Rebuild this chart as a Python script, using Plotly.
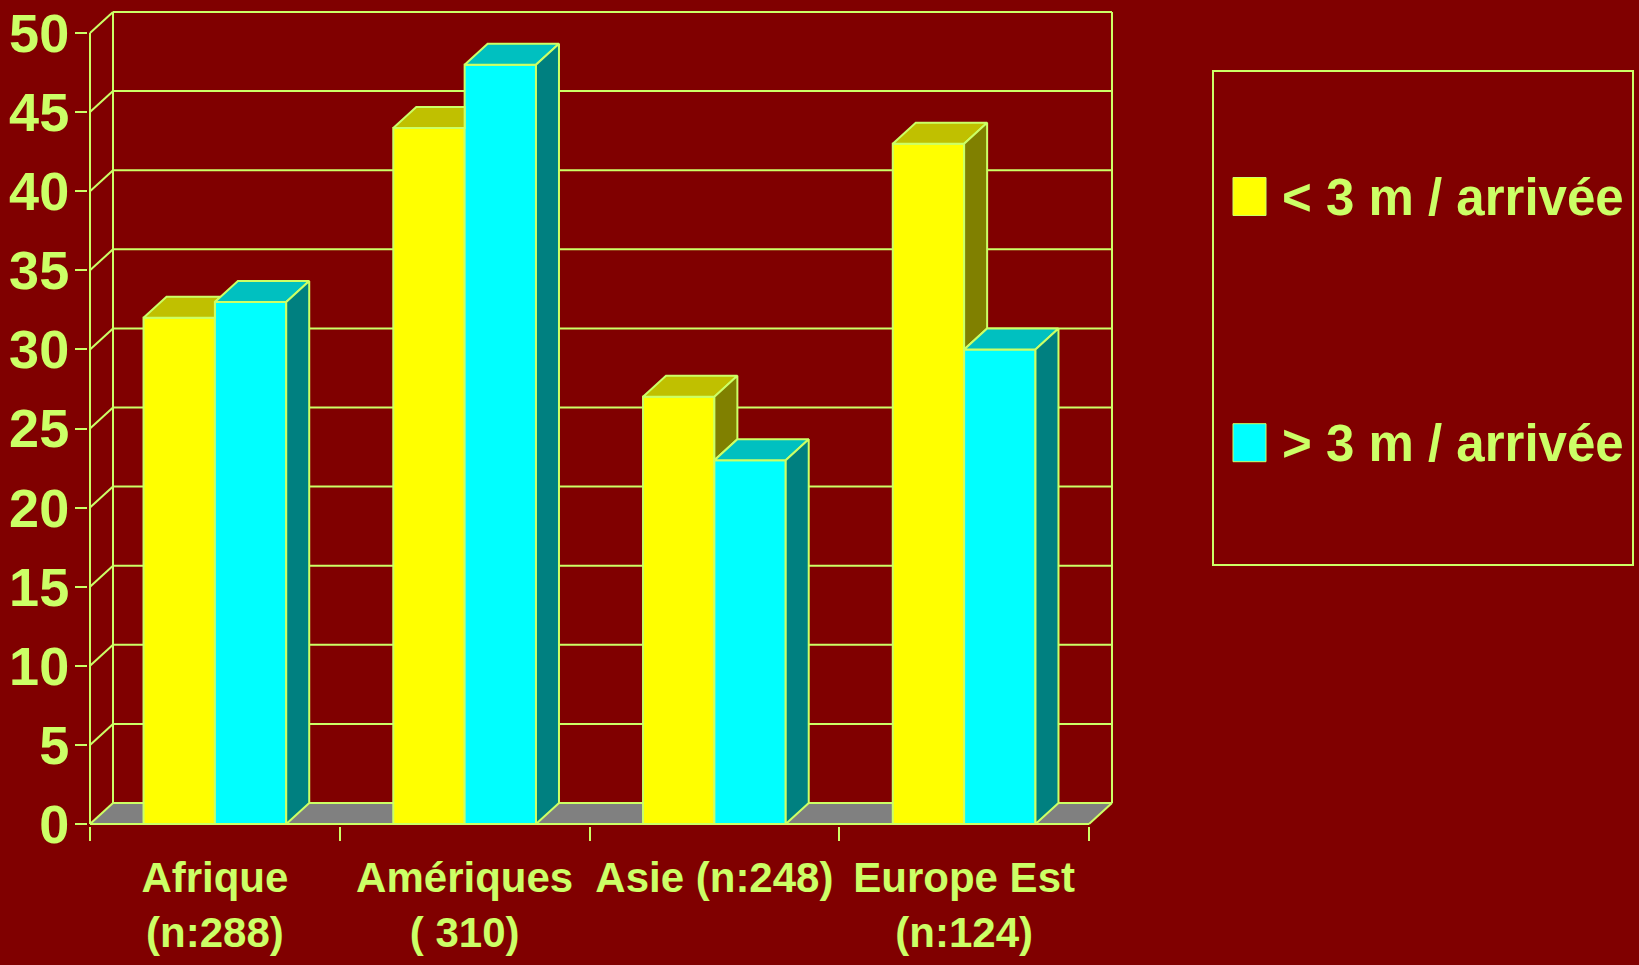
import plotly.graph_objects as go

# ---- data -------------------------------------------------------------
categories = ["Afrique<br>(n:288)", "Amériques<br>( 310)", "Asie (n:248)", "Europe Est<br>(n:124)"]
series_names = ["< 3 m / arrivée", "> 3 m / arrivée"]
under_3m = [32, 44, 27, 43]
over_3m = [33, 48, 23, 30]
y_ticks = list(range(0, 55, 5))

# ---- style ------------------------------------------------------------
BG = "#800000"
INK = "#CCFF66"
FRONT = ["#FFFF00", "#00FFFF"]
TOP = ["#C0C000", "#00C0C0"]
SIDE = ["#808000", "#008080"]
FLOOR = "#808080"
FONT = "Liberation Sans, Arial, sans-serif"

W, H = 1639, 965
# plot frame in pixels and axis scales (pixels per unit)
L, R, T, B = 88, 1116, 8, 826
X_SCALE = 249.75
Y_SCALE = 15.82
x_lo = -0.5 - 2 / X_SCALE
x_hi = x_lo + (R - L) / X_SCALE
y_lo = -2 / Y_SCALE
y_hi = y_lo + (B - T) / Y_SCALE

DX = 23 / X_SCALE      # depth of the pseudo-3D box, in x units
DY = 21 / Y_SCALE      # depth of the pseudo-3D box, in y units
BAR_W = 1 / 3.5        # gap width 150 %
Y_MAX = y_ticks[-1]
X0, X1 = -0.5, len(categories) - 0.5

fig = go.Figure()

# front faces of the columns
xs = list(range(len(categories)))
for k, vals in enumerate([under_3m, over_3m]):
    fig.add_trace(go.Bar(
        x=xs, y=vals, name=series_names[k],
        offset=-BAR_W if k == 0 else 0, width=BAR_W,
        marker=dict(color=FRONT[k], line=dict(color=INK, width=2)),
        showlegend=False, hoverinfo="skip",
    ))


def face(px, py, color):
    fig.add_trace(go.Scatter(
        x=px + [px[0]], y=py + [py[0]], mode="lines", fill="toself",
        fillcolor=color, line=dict(color=INK, width=2),
        showlegend=False, hoverinfo="skip",
    ))


# top and side faces, hidden parts removed
for i in xs:
    vy, vc = under_3m[i], over_3m[i]
    xl, xm, xr = i - BAR_W, i, i + BAR_W
    cut = min(max(vc, vy), vy + DY)
    face([xl, xm, xm, xm + DX * (vy + DY - cut) / DY, xl + DX],
         [vy, vy, cut, vy + DY, vy + DY], TOP[0])
    if vy > vc:
        face([xm, xm + DX, xm + DX, xm], [vc, vc + DY, vy + DY, vy], SIDE[0])
    face([xm, xr, xr + DX, xm + DX], [vc, vc, vc + DY, vc + DY], TOP[1])
    face([xr, xr + DX, xr + DX, xr], [0, DY, vc + DY, vc], SIDE[1])

# walls, floor and grid
shapes = []


def seg(xa, ya, xb, yb):
    shapes.append(dict(type="line", xref="x", yref="y", x0=xa, y0=ya, x1=xb, y1=yb,
                       line=dict(color=INK, width=2), layer="below"))


shapes.append(dict(type="path", xref="x", yref="y", layer="below",
                   path=f"M{X0},0 L{X1},0 L{X1 + DX},{DY} L{X0 + DX},{DY} Z",
                   fillcolor=FLOOR, line=dict(width=0)))
for v in y_ticks:
    seg(X0, v, X0 + DX, v + DY)
    seg(X0 + DX, v + DY, X1 + DX, v + DY)
seg(X0 + DX, DY, X0 + DX, Y_MAX + DY)
seg(X1 + DX, DY, X1 + DX, Y_MAX + DY)
seg(X0, 0, X0, Y_MAX)
seg(X0, 0, X1, 0)
seg(X1, 0, X1 + DX, DY)


# legend drawn in pixel positions
def px_x(p):
    return (p - L) / (R - L)


def px_y(p):
    return (B - p) / (B - T)


shapes.append(dict(type="rect", xref="paper", yref="paper",
                   x0=px_x(1213), x1=px_x(1633), y0=px_y(71), y1=px_y(565),
                   line=dict(color=INK, width=2), fillcolor="rgba(0,0,0,0)"))
annotations = []
for k, yc in enumerate([196.5, 442.7]):
    shapes.append(dict(type="rect", xref="paper", yref="paper",
                       x0=px_x(1233), x1=px_x(1266), y0=px_y(yc - 19), y1=px_y(yc + 19),
                       line=dict(color=INK, width=1), fillcolor=FRONT[k]))
    annotations.append(dict(xref="paper", yref="paper", x=px_x(1280), y=px_y(yc + 1),
                            xanchor="left", yanchor="middle", showarrow=False,
                            text=series_names[k],
                            font=dict(family=FONT, weight="bold", size=51, color=INK)))

fig.update_layout(
    width=W, height=H, autosize=False,
    margin=dict(l=L, r=W - R, t=T, b=H - B, pad=0),
    paper_bgcolor=BG, plot_bgcolor=BG,
    barmode="overlay",
    shapes=shapes, annotations=annotations,
    xaxis=dict(
        range=[x_lo, x_hi], showgrid=False, zeroline=False, showline=False,
        automargin=False,
        tickmode="array", tickvals=xs, ticktext=categories, ticks="",
        tickfont=dict(family=FONT, weight="bold", size=42, color=INK),
        ticklabelstandoff=23, ticklabeloverflow="allow",
        minor=dict(tickmode="array", tickvals=[c - 0.5 for c in xs] + [X1],
                   ticks="outside", ticklen=14, tickwidth=2, tickcolor=INK, showgrid=False),
    ),
    yaxis=dict(
        range=[y_lo, y_hi], showgrid=False, zeroline=False, showline=False,
        automargin=False,
        tickmode="array", tickvals=y_ticks, ticks="outside", ticklen=12,
        tickwidth=2, tickcolor=INK, ticklabeloverflow="allow",
        ticklabelstandoff=-5,
        tickfont=dict(family=FONT, weight="bold", size=54, color=INK),
    ),
)

fig.write_html("out.html")
